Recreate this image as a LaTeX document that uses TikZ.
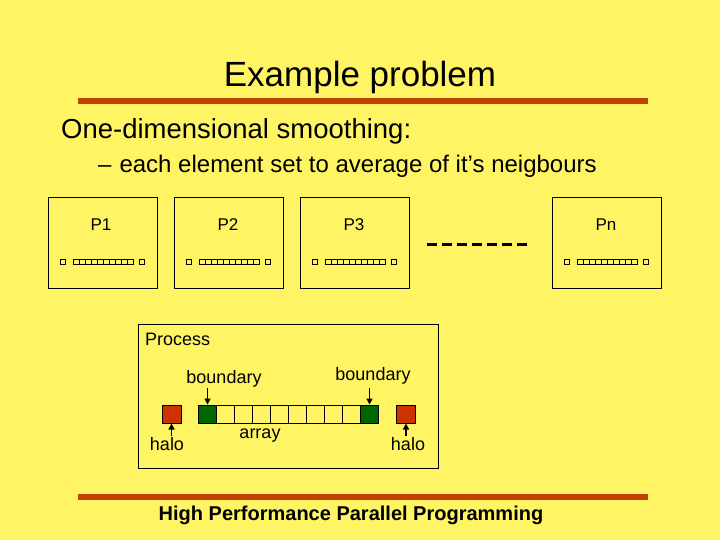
\documentclass[tikz,border=0pt]{standalone}
\usepackage{fontspec}
\setmainfont{Liberation Sans}
\usetikzlibrary{arrows.meta}
\definecolor{bg}{RGB}{255,245,100}
\definecolor{rulecol}{RGB}{196,64,0}
\definecolor{halored}{RGB}{204,51,0}
\definecolor{bgreen}{RGB}{0,102,0}
\begin{document}
\begin{tikzpicture}[x=1pt,y=-1pt,
  txt/.style={inner sep=0pt,font=\fontsize{18}{21}\selectfont},
  procbox/.style={draw,line width=1pt,minimum width=109pt,minimum height=90pt,inner sep=0pt},
  plabel/.style={inner sep=0pt,font=\fontsize{17}{20}\selectfont},
  tiny/.style={draw,line width=0.8pt},
  cell/.style={draw,line width=1pt,minimum width=18pt,minimum height=18pt,inner sep=0pt},
  halocell/.style={cell,fill=halored,minimum width=19pt},
  bcell/.style={cell,fill=bgreen},
  arr/.style={line width=1.5pt,-{Triangle[length=6pt,width=6pt]}},
  rulebar/.style={fill=rulecol}]
\fill[bg] (0,0) rectangle (720,540);
\useasboundingbox (0,0) rectangle (720,540);

% title
\node[inner sep=0pt] (title) at (360,77.5) {\fontsize{35}{40}\selectfont Example problem};
\fill[rulebar] (78,98) rectangle (648,104);

% bullets
\node[inner sep=0pt,anchor=west] (b1) at (61,131) {\fontsize{27.5}{32}\selectfont One-dimensional smoothing:};
\node[inner sep=0pt,anchor=west] (b2) at (98,166.5) {\fontsize{24}{28}\selectfont –\hspace{8pt}each element set to average of it’s neigbours};

% processor boxes
\foreach \x/\c/\t/\n in {48/101/P1/p1, 174/228/P2/p2, 300/354/P3/p3, 552/606/Pn/pn}{
  \node[procbox] (\n) at (\x+54.5,243) {};
  \node[plabel] (\n lab) at (\c,225) {\t};
  \draw[tiny] (\x+12.7,259) rectangle ++(5,5);
  \foreach \i in {0,...,9}{
    \draw[tiny] (\x+25+6*\i,259) rectangle ++(6,5);
  }
  \draw[tiny] (\x+91,259) rectangle ++(5,5);
}

% dashes
\coordinate (d1) at (427,244);
\coordinate (d2) at (530,244);
\draw[line width=3pt,dash pattern=on 10pt off 5pt] (d1) -- (d2);

% process box
\node[draw,line width=1pt,minimum width=300pt,minimum height=144pt,inner sep=0pt,anchor=north west] (proc) at (138,324) {};
\node[txt,anchor=west] (plab) at (145,339) {Process};

% cells
\node[halocell] (hl) at (171.5,414) {};
\node[bcell] (gl) at (207.5,414) {};
\foreach \i in {1,...,8}{
  \node[cell] (c\i) at (207.5+18*\i,414) {};
}
\node[bcell] (gr) at (369.5,414) {};
\node[halocell] (hr) at (406,414) {};

% labels
\node[txt] (bl) at (224,379) {boundary};
\node[txt] (br) at (373,376) {boundary};
\node[txt] (hll) at (167,444) {halo};
\node[txt] (hrl) at (408,444) {halo};
\node[txt] (arl) at (260,436) {array};

% arrows
\coordinate (gla) at (207.5,388);
\coordinate (gra) at (369.5,388);
\coordinate (hla) at (171.5,436);
\coordinate (hra) at (406,436);
\draw[arr] (gla) -- (gl.north);
\draw[arr] (gra) -- (gr.north);
\draw[arr] (hla) -- (hl.south);
\draw[arr] (hra) -- (hr.south);

% footer
\fill[rulebar] (78,494) rectangle (648,500);
\node[inner sep=0pt] (foot) at (351,515) {\fontsize{20}{24}\selectfont\bfseries High Performance Parallel Programming};
\end{tikzpicture}
\end{document}
